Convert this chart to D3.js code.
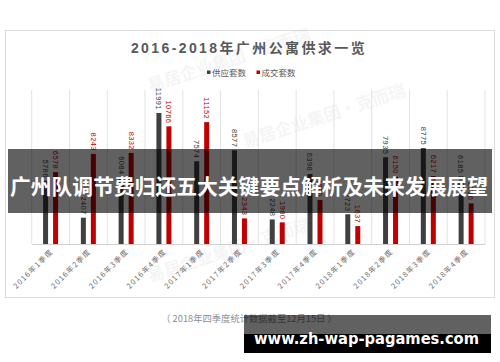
<!DOCTYPE html>
<html>
<head>
<meta charset="utf-8">
<script src="https://cdn.jsdelivr.net/npm/d3@7"></script>
<style>
  html, body { margin: 0; padding: 0; background: #ffffff; }
  svg { display: block; }
</style>
</head>
<body>
<script>
// ---- data ----
const categories = ["2016年1季度", "2016年2季度", "2016年3季度", "2016年4季度",
  "2017年1季度", "2017年2季度", "2017年3季度", "2017年4季度",
  "2018年1季度", "2018年2季度", "2018年3季度", "2018年4季度"];
const seriesNames = ["供应套数", "成交套数"];
const supply = [5786, 2407, 6084, 11991, 7574, 8577, 2248, 6398, 2723, 7935, 8775, 6185];
const deal = [6578, 8243, 8332, 10766, 11152, 2343, 1980, 4030, 1637, 6150, 6217, 3716];
const titleText = "2016-2018年广州公寓供求一览";
const noteText = "（ 2018年四季度统计数据截至12月15日 ）";
const bannerText = "广州队调节费归还五大关键要点解析及未来发展展望";
const siteText = "www.zh-wap-pagames.com";
const watermarkText = "易居企业集团·克而瑞";

const colors = { "供应套数": "#404040", "成交套数": "#c00000" };
const FONT = "'Liberation Sans', Arial, 'Noto Sans CJK SC', sans-serif";
const CJK = "'Noto Sans CJK SC', 'Liberation Sans', sans-serif";

const W = 500, H = 362;
const svg = d3.select("body").append("svg").attr("width", W).attr("height", H);

// chart frame
svg.append("rect").attr("x", 5.5).attr("y", 30.5).attr("width", 489).attr("height", 267)
  .attr("fill", "#fff").attr("stroke", "#dcdcdc");

// faint watermarks
const wm = [[150, 92, -18], [245, 148, -18], [150, 282, -18]];
wm.forEach(([x, y, r]) => {
  svg.append("text").attr("x", x).attr("y", y)
    .attr("transform", `rotate(${r},${x},${y})`)
    .attr("font-family", CJK).attr("font-size", 17).attr("font-weight", "bold")
    .attr("fill", "#000").attr("opacity", 0.035).text(watermarkText);
});

// title
svg.append("text").attr("x", 249).attr("y", 53).attr("text-anchor", "middle")
  .attr("font-family", FONT).attr("font-weight", "bold").attr("font-size", 14)
  .attr("letter-spacing", 2.4).attr("fill", "#595959").text(titleText);

// legend
const legend = svg.append("g").attr("font-family", CJK).attr("font-size", 8.5).attr("fill", "#595959");
const legX = [207, 256.5];
seriesNames.forEach((s, i) => {
  legend.append("rect").attr("x", legX[i]).attr("y", 70.5).attr("width", 3.5).attr("height", 3.5).attr("fill", colors[s]);
  legend.append("text").attr("x", legX[i] + 5).attr("y", 75.5).text(s);
});

// scales
const x0 = d3.scaleBand().domain(categories).range([31.7, 485]).padding(0);
const bw = x0.bandwidth();
const x1 = d3.scaleBand().domain(seriesNames).range([bw / 2 - 7.5, bw / 2 + 7.5]).paddingInner(0.5).paddingOuter(0);
const y = d3.scaleLinear().domain([0, 14000]).range([244, 91]);

// vertical gridlines at band boundaries
const bounds = categories.map(c => x0(c)).concat([x0.range()[1]]);
svg.append("g").selectAll("line").data(bounds).join("line")
  .attr("x1", d => d).attr("x2", d => d).attr("y1", 90).attr("y2", 244)
  .attr("stroke", "#e3e3e3").attr("stroke-width", 1);

// x axis
const xAxis = svg.append("g").attr("transform", "translate(0,244)")
  .call(d3.axisBottom(x0).tickSize(0).tickPadding(0));
xAxis.select(".domain").attr("stroke", "#d0d0d0");
xAxis.selectAll("text")
  .attr("font-family", CJK).attr("font-size", 7.3).attr("letter-spacing", 1.3)
  .attr("fill", "#6a6a6a").attr("text-anchor", "end")
  .attr("dy", 0).attr("y", 0)
  .attr("transform", "translate(3,8) rotate(-45)");

// bars
const rows = categories.map((c, i) => ({ cat: c, values: [
  { s: seriesNames[0], v: supply[i] }, { s: seriesNames[1], v: deal[i] }] }));
const groups = svg.append("g").selectAll("g").data(rows).join("g")
  .attr("transform", d => `translate(${x0(d.cat)},0)`);
groups.selectAll("rect").data(d => d.values).join("rect")
  .attr("x", d => x1(d.s)).attr("width", x1.bandwidth())
  .attr("y", d => y(d.v)).attr("height", d => y(0) - y(d.v))
  .attr("fill", d => colors[d.s]);
groups.selectAll("text").data(d => d.values).join("text")
  .attr("transform", d => `translate(${x1(d.s) + x1.bandwidth() / 2},${y(d.v) - 3}) rotate(90)`)
  .attr("text-anchor", "end").attr("dy", "0.35em")
  .attr("font-family", FONT).attr("font-size", 7.5).attr("letter-spacing", 0.4)
  .attr("fill", d => colors[d.s]).text(d => d.v);

// banner overlay
svg.append("rect").attr("x", 8).attr("y", 149).attr("width", 484).attr("height", 64)
  .attr("fill", "#000").attr("opacity", 0.62);
svg.append("text").attr("x", 10).attr("y", 185).attr("dominant-baseline", "central")
  .attr("textLength", 478).attr("lengthAdjust", "spacingAndGlyphs")
  .attr("font-family", CJK).attr("font-weight", "bold").attr("font-size", 21)
  .attr("fill", "#fff").text(bannerText);

// source note
svg.append("text").attr("x", 249).attr("y", 322).attr("text-anchor", "middle")
  .attr("font-family", CJK).attr("font-size", 9.3).attr("fill", "#8f8f8f").text(noteText);

// site box
svg.append("rect").attr("x", 244).attr("y", 315).attr("width", 247).attr("height", 19)
  .attr("fill", "#000").attr("opacity", 0.62);
svg.append("rect").attr("x", 244).attr("y", 334).attr("width", 247).attr("height", 19)
  .attr("fill", "#000");
svg.append("text").attr("x", 254).attr("y", 344).attr("textLength", 225).attr("lengthAdjust", "spacingAndGlyphs")
  .attr("font-family", "'DejaVu Sans', sans-serif").attr("font-weight", "bold").attr("font-size", 16)
  .attr("fill", "#fff").text(siteText);
</script>
</body>
</html>
